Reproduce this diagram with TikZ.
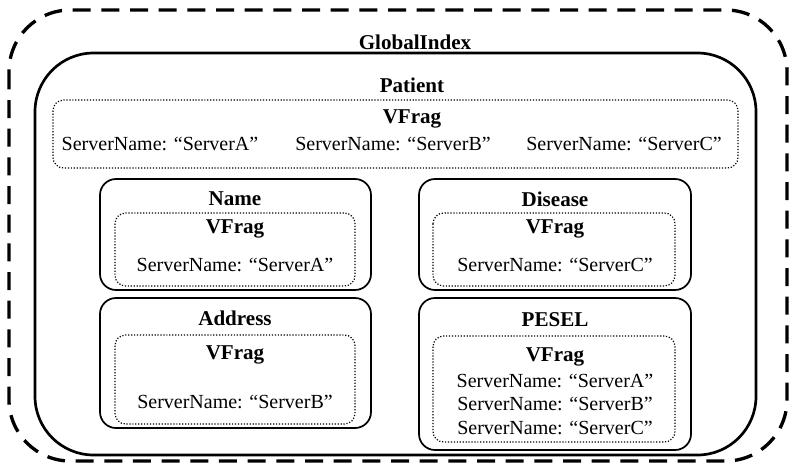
\documentclass[tikz,border=0pt]{standalone}
\usepackage{fontspec}
\setmainfont{Liberation Serif}
\begin{document}
\begin{tikzpicture}[x=0.75pt,y=-0.75pt,
  outerbox/.style={draw, line width=2.5pt, dash pattern=on 13.5pt off 8pt, rounded corners=46pt},
  classbox/.style={draw, line width=2pt, rounded corners=44pt},
  attrbox/.style={draw, line width=1.3pt, rounded corners=12pt},
  fragbox/.style={draw, line width=0.9pt, dash pattern=on 0.9pt off 1.3pt, rounded corners=8pt},
  title/.style={font=\fontsize{15.8}{18}\selectfont\bfseries, inner sep=0pt},
  entry/.style={font=\fontsize{15}{17}\selectfont, inner sep=0pt}]
\useasboundingbox (0,0) rectangle (793,468);

% global index frame
\draw[outerbox] (9,10) rectangle (787,461);
\node[title] (gi) at (415,42) {GlobalIndex};

% patient class
\draw[classbox] (35,53) rectangle (756,455);
\node[title] (patient) at (412,85) {Patient};
\draw[fragbox] (53,100) rectangle (738,168);
\node[title] (pvfrag) at (412,119) {VFrag};
\node[entry] (pa) at (160,144) {ServerName: “ServerA”};
\node[entry] (pb) at (393,144) {ServerName: “ServerB”};
\node[entry] (pc) at (624,144) {ServerName: “ServerC”};

% Name attribute
\draw[attrbox] (100,179) rectangle (371,290);
\node[title] (name) at (235,199) {Name};
\draw[fragbox] (115,213) rectangle (355,286);
\node[title] (nvfrag) at (235,229) {VFrag};
\node[entry] (na) at (235,265) {ServerName: “ServerA”};

% Disease attribute
\draw[attrbox] (419,179) rectangle (691,290);
\node[title] (disease) at (555,199) {Disease};
\draw[fragbox] (433,213) rectangle (675,286);
\node[title] (dvfrag) at (555,229) {VFrag};
\node[entry] (dc) at (555,265) {ServerName: “ServerC”};

% Address attribute
\draw[attrbox] (100,298) rectangle (371,428);
\node[title] (address) at (235,318) {Address};
\draw[fragbox] (115,335) rectangle (355,424);
\node[title] (avfrag) at (235,355) {VFrag};
\node[entry] (ab) at (235,402) {ServerName: “ServerB”};

% PESEL attribute
\draw[attrbox] (419,298) rectangle (691,450);
\node[title] (pesel) at (555,320) {PESEL};
\draw[fragbox] (433,336) rectangle (675,442);
\node[title] (svfrag) at (555,357) {VFrag};
\node[entry] (sa) at (555,381) {ServerName: “ServerA”};
\node[entry] (sb) at (555,404) {ServerName: “ServerB”};
\node[entry] (sc) at (555,428) {ServerName: “ServerC”};
\end{tikzpicture}
\end{document}
